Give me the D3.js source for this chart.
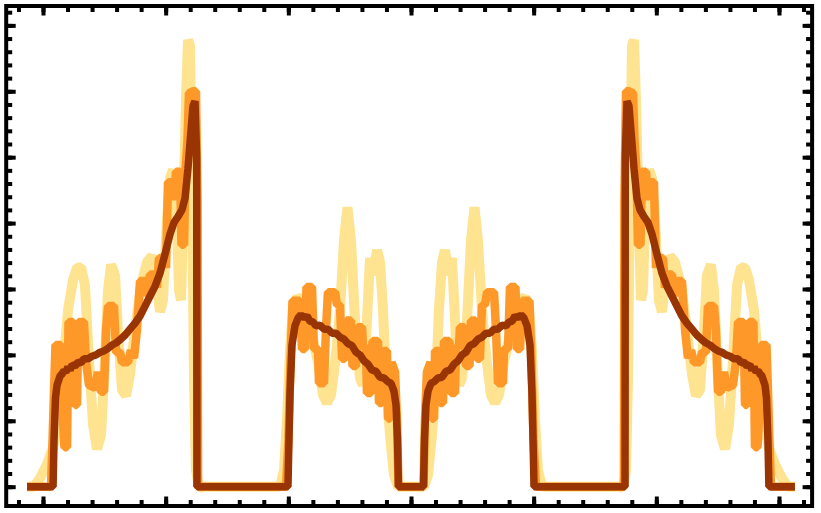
<!DOCTYPE html>
<html>
<head>
<meta charset="utf-8">
<script src="https://cdn.jsdelivr.net/npm/d3@7"></script>
<style>
html, body { margin: 0; padding: 0; background: #ffffff; }
svg { display: block; }
</style>
</head>
<body>
<svg id="chart" width="821" height="513"></svg>
<script>
// ---- data ----
const yellowX = [
  -3.13, -3.073, -3.024, -2.967, -2.918, -2.878, -2.837, -2.796, -2.755, -2.723, -2.69, -2.658, -2.625, -2.592, -2.56, -2.527, -2.495, -2.47, -2.445, -2.413, -2.389, -2.356, -2.323, -2.291, -2.25, -2.201, -2.152, -2.111, -2.079, -2.046, -2.022, -1.989, -1.965, -1.94, -1.916, -1.891, -1.875, -1.859, -1.834, -1.818, -1.802, -1.785, -1.769, -1.753, -1.728, -1.696,
  -1.068, -1.035, -1.011, -0.986, -0.962, -0.929, -0.897, -0.856, -0.807, -0.758, -0.717, -0.685, -0.652, -0.611, -0.579, -0.546, -0.518, -0.489, -0.457, -0.416, -0.391, -0.367, -0.334, -0.31, -0.277, -0.253, -0.228, -0.204, -0.171, -0.139, -0.106,
  0.106, 0.139, 0.171, 0.204, 0.228, 0.253, 0.277, 0.31, 0.334, 0.367, 0.391, 0.416, 0.457, 0.489, 0.518, 0.546, 0.579, 0.611, 0.652, 0.685, 0.717, 0.758, 0.807, 0.856, 0.897, 0.929, 0.962, 0.986, 1.011, 1.035, 1.068,
  1.696, 1.728, 1.753, 1.769, 1.785, 1.802, 1.818, 1.834, 1.859, 1.875, 1.891, 1.916, 1.94, 1.965, 1.989, 2.022, 2.046, 2.079, 2.111, 2.152, 2.201, 2.25, 2.291, 2.323, 2.356, 2.389, 2.413, 2.445, 2.47, 2.495, 2.527, 2.56, 2.592, 2.625, 2.658, 2.69, 2.723, 2.755, 2.796, 2.837, 2.878, 2.918, 2.967, 3.024, 3.073, 3.13
];
const yellowY = [
  0, 0, 0.13, 0.34, 0.59, 1.01, 1.77, 2.68, 3.14, 3.32, 3.33, 3.06, 1.92, 0.94, 0.57, 0.78, 1.92, 2.98, 3.37, 3.21, 2.38, 1.47, 1.38, 1.70, 2.38, 3.06, 3.41, 3.50, 3.21, 2.65, 2.83, 4.05, 4.68, 4.81, 4.50, 2.98, 2.83, 3.89, 5.87, 6.78, 6.70, 4.65, 1.62, 0.25, -0.02, 0,
  0, 0.25, 1.01, 2.07, 2.71, 2.88, 2.83, 2.61, 2.30, 1.89, 1.39, 1.27, 1.39, 2.00, 2.68, 3.74, 4.24, 3.74, 2.53, 1.65, 1.54, 2.23, 3.47, 3.21, 3.59, 3.41, 2.68, 1.62, 0.78, 0.18, 0,
  0, 0.18, 0.78, 1.62, 2.68, 3.41, 3.59, 3.21, 3.47, 2.23, 1.54, 1.65, 2.53, 3.74, 4.24, 3.74, 2.68, 2.00, 1.39, 1.27, 1.39, 1.89, 2.30, 2.61, 2.83, 2.88, 2.71, 2.07, 1.01, 0.25, 0,
  0, -0.02, 0.25, 1.62, 4.65, 6.70, 6.78, 5.87, 3.89, 2.83, 2.98, 4.50, 4.81, 4.68, 4.05, 2.83, 2.65, 3.21, 3.50, 3.41, 3.06, 2.38, 1.70, 1.38, 1.47, 2.38, 3.21, 3.37, 2.98, 1.92, 0.78, 0.57, 0.94, 1.92, 3.06, 3.33, 3.32, 3.14, 2.68, 1.77, 1.01, 0.59, 0.34, 0.13, 0, 0
];

const orangeX = [
  -3.13, -2.935, -2.922, -2.91, -2.898, -2.853, -2.837, -2.825, -2.804, -2.792, -2.755, -2.739, -2.723, -2.711, -2.666, -2.649, -2.625, -2.576, -2.552, -2.527, -2.503, -2.486, -2.47, -2.421, -2.405, -2.372, -2.356, -2.307, -2.283, -2.258, -2.234, -2.209, -2.168, -2.152, -2.128, -2.095, -2.071, -2.054, -2.014, -1.997, -1.981, -1.948, -1.932, -1.916, -1.883, -1.871, -1.85, -1.838, -1.822, -1.81, -1.777, -1.753, -1.74, -1.736,
  -1.019, -0.999, -0.982, -0.966, -0.905, -0.889, -0.864, -0.852, -0.807, -0.791, -0.758, -0.75, -0.709, -0.693, -0.677, -0.62, -0.603, -0.579, -0.562, -0.538, -0.526, -0.489, -0.477, -0.448, -0.436, -0.399, -0.391, -0.367, -0.359, -0.326, -0.314, -0.269, -0.261, -0.236, -0.228, -0.196, -0.187, -0.171, -0.159, -0.13, -0.114, -0.102,
  0.102, 0.114, 0.13, 0.159, 0.171, 0.187, 0.196, 0.228, 0.236, 0.261, 0.269, 0.314, 0.326, 0.359, 0.367, 0.391, 0.399, 0.436, 0.448, 0.477, 0.489, 0.526, 0.538, 0.562, 0.579, 0.603, 0.62, 0.677, 0.693, 0.709, 0.75, 0.758, 0.791, 0.807, 0.852, 0.864, 0.889, 0.905, 0.966, 0.982, 0.999, 1.019,
  1.736, 1.74, 1.753, 1.777, 1.81, 1.822, 1.838, 1.85, 1.871, 1.883, 1.916, 1.932, 1.948, 1.981, 1.997, 2.014, 2.054, 2.071, 2.095, 2.128, 2.152, 2.168, 2.209, 2.234, 2.258, 2.283, 2.307, 2.356, 2.372, 2.405, 2.421, 2.47, 2.486, 2.503, 2.527, 2.552, 2.576, 2.625, 2.649, 2.666, 2.711, 2.723, 2.739, 2.755, 2.792, 2.804, 2.825, 2.837, 2.853, 2.898, 2.91, 2.922, 2.935, 3.13
];
const orangeY = [
  0, 0, 0.71, 1.47, 2.15, 2.15, 1.01, 0.60, 0.60, 2.50, 2.50, 1.24, 1.24, 2.50, 2.50, 1.89, 1.54, 1.50, 1.74, 1.44, 1.44, 2.38, 2.74, 2.74, 2.04, 2.04, 1.89, 1.89, 2.07, 1.95, 2.38, 3.12, 3.12, 2.89, 3.22, 3.22, 3.02, 3.47, 3.47, 3.32, 4.62, 4.62, 4.35, 4.78, 4.78, 3.67, 3.67, 4.81, 5.26, 5.97, 6.00, 6.00, 4.35, 0,
  0, 0.71, 1.92, 2.82, 2.82, 2.09, 2.09, 3.03, 3.03, 2.09, 2.09, 1.57, 1.57, 2.38, 2.95, 2.95, 2.76, 2.76, 1.94, 1.94, 2.52, 2.52, 1.83, 1.83, 2.42, 2.42, 2.12, 2.12, 1.42, 1.42, 2.21, 2.21, 1.27, 1.27, 2.06, 2.06, 1.03, 1.03, 1.89, 1.74, 1.01, 0,
  0, 1.01, 1.74, 1.89, 1.03, 1.03, 2.06, 2.06, 1.27, 1.27, 2.21, 2.21, 1.42, 1.42, 2.12, 2.12, 2.42, 2.42, 1.83, 1.83, 2.52, 2.52, 1.94, 1.94, 2.76, 2.76, 2.95, 2.95, 2.38, 1.57, 1.57, 2.09, 2.09, 3.03, 3.03, 2.09, 2.09, 2.82, 2.82, 1.92, 0.71, 0,
  0, 4.35, 6.00, 6.00, 5.97, 5.26, 4.81, 3.67, 3.67, 4.78, 4.78, 4.35, 4.62, 4.62, 3.32, 3.47, 3.47, 3.02, 3.22, 3.22, 2.89, 3.12, 3.12, 2.38, 1.95, 2.07, 1.89, 1.89, 2.04, 2.04, 2.74, 2.74, 2.38, 1.44, 1.44, 1.74, 1.50, 1.54, 1.89, 2.50, 2.50, 1.24, 1.24, 2.50, 2.50, 0.60, 0.60, 1.01, 2.15, 2.15, 1.47, 0.71, 0, 0
];

const brownX = [
  -3.13, -2.918, -2.91, -2.898, -2.886, -2.861, -2.845, -2.829, -2.812, -2.796, -2.78, -2.763, -2.739, -2.714, -2.69, -2.666, -2.633, -2.6, -2.568, -2.535, -2.503, -2.47, -2.437, -2.405, -2.372, -2.331, -2.291, -2.25, -2.209, -2.168, -2.128, -2.087, -2.046, -2.005, -1.965, -1.932, -1.899, -1.867, -1.842, -1.818, -1.793, -1.777, -1.761, -1.747, -1.745,
  -1.003, -0.995, -0.986, -0.97, -0.946, -0.921, -0.897, -0.872, -0.848, -0.823, -0.799, -0.774, -0.742, -0.709, -0.677, -0.644, -0.611, -0.579, -0.546, -0.514, -0.481, -0.448, -0.416, -0.383, -0.351, -0.318, -0.285, -0.253, -0.22, -0.187, -0.163, -0.139, -0.122, -0.11, -0.102,
  0.102, 0.11, 0.122, 0.139, 0.163, 0.187, 0.22, 0.253, 0.285, 0.318, 0.351, 0.383, 0.416, 0.448, 0.481, 0.514, 0.546, 0.579, 0.611, 0.644, 0.677, 0.709, 0.742, 0.774, 0.799, 0.823, 0.848, 0.872, 0.897, 0.921, 0.946, 0.97, 0.986, 0.995, 1.003,
  1.745, 1.747, 1.761, 1.777, 1.793, 1.818, 1.842, 1.867, 1.899, 1.932, 1.965, 2.005, 2.046, 2.087, 2.128, 2.168, 2.209, 2.25, 2.291, 2.331, 2.372, 2.405, 2.437, 2.47, 2.503, 2.535, 2.568, 2.6, 2.633, 2.666, 2.69, 2.714, 2.739, 2.763, 2.78, 2.796, 2.812, 2.829, 2.845, 2.861, 2.886, 2.898, 2.91, 2.918, 3.13
];
const brownY = [
  0, 0, 0.71, 1.35, 1.54, 1.68, 1.71, 1.76, 1.74, 1.82, 1.77, 1.85, 1.83, 1.89, 1.88, 1.94, 1.94, 1.98, 2.00, 2.04, 2.06, 2.10, 2.15, 2.18, 2.23, 2.30, 2.39, 2.48, 2.59, 2.74, 2.89, 3.04, 3.24, 3.53, 3.83, 4.01, 4.10, 4.20, 4.38, 4.83, 5.41, 5.78, 5.85, 5.0, 0,
  0, 0.71, 1.44, 2.15, 2.44, 2.56, 2.61, 2.56, 2.59, 2.51, 2.50, 2.44, 2.45, 2.39, 2.39, 2.33, 2.33, 2.27, 2.24, 2.17, 2.14, 2.04, 2.00, 1.91, 1.86, 1.77, 1.75, 1.66, 1.65, 1.59, 1.57, 1.45, 1.24, 0.71, 0,
  0, 0.71, 1.24, 1.45, 1.57, 1.59, 1.65, 1.66, 1.75, 1.77, 1.86, 1.91, 2.00, 2.04, 2.14, 2.17, 2.24, 2.27, 2.33, 2.33, 2.39, 2.39, 2.45, 2.44, 2.50, 2.51, 2.59, 2.56, 2.61, 2.56, 2.44, 2.15, 1.44, 0.71, 0,
  0, 5.0, 5.85, 5.78, 5.41, 4.83, 4.38, 4.20, 4.10, 4.01, 3.83, 3.53, 3.24, 3.04, 2.89, 2.74, 2.59, 2.48, 2.39, 2.30, 2.23, 2.18, 2.15, 2.10, 2.06, 2.04, 2.00, 1.98, 1.94, 1.94, 1.88, 1.89, 1.83, 1.85, 1.77, 1.82, 1.74, 1.76, 1.71, 1.68, 1.54, 1.35, 0.71, 0, 0
];

const xMajorTicks = [-3, -2, -1, 0, 1, 2, 3];
const yMajorTicks = [0, 1, 2, 3, 4, 5, 6, 7];
const xMinorTicks = d3.range(-16, 17).map(i => i / 5);
const yMinorTicks = d3.range(0, 37).map(i => i / 5);

// ---- drawing ----
const svg = d3.select("#chart");
const x = d3.scaleLinear().domain([-3.3, 3.27]).range([6.2, 812.1]);
const y = d3.scaleLinear().domain([-0.293, 7.294]).range([506, 6]);

const series = [
  { xs: yellowX, ys: yellowY, color: "#FEE391", width: 10 },
  { xs: orangeX, ys: orangeY, color: "#FE9929", width: 8.5 },
  { xs: brownX,  ys: brownY,  color: "#993404", width: 7.5 }
];

const line = d3.line().x(d => x(d[0])).y(d => y(d[1]));

svg.append("rect").attr("width", 821).attr("height", 513).attr("fill", "#ffffff");

const lines = svg.append("g");
series.forEach(s => {
  lines.append("path")
    .datum(d3.zip(s.xs, s.ys))
    .attr("d", line)
    .attr("fill", "none")
    .attr("stroke", s.color)
    .attr("stroke-width", s.width)
    .attr("stroke-linejoin", "bevel")
    .attr("stroke-linecap", "butt");
});

const [x0, x1] = x.range();
const [yb, yt] = y.range();

function styleAxis(g) {
  g.select(".domain").remove();
  g.selectAll(".tick line").attr("stroke", "#000").attr("stroke-width", 4);
  g.selectAll(".tick text").remove();
}

const axes = [
  { gen: d3.axisBottom(x), t: `translate(0,${yb})`, major: xMajorTicks, minor: xMinorTicks },
  { gen: d3.axisTop(x), t: `translate(0,${yt})`, major: xMajorTicks, minor: xMinorTicks },
  { gen: d3.axisLeft(y), t: `translate(${x0},0)`, major: yMajorTicks, minor: yMinorTicks },
  { gen: d3.axisRight(y), t: `translate(${x1},0)`, major: yMajorTicks, minor: yMinorTicks }
];
axes.forEach(a => {
  svg.append("g").attr("transform", a.t)
    .call(a.gen.tickValues(a.minor).tickSize(-6).tickFormat(""))
    .call(styleAxis);
  svg.append("g").attr("transform", a.t)
    .call(a.gen.tickValues(a.major).tickSize(-9.5).tickFormat(""))
    .call(styleAxis);
});

svg.append("rect")
  .attr("x", x0).attr("y", yt)
  .attr("width", x1 - x0).attr("height", yb - yt)
  .attr("fill", "none").attr("stroke", "#000").attr("stroke-width", 4);
</script>
</body>
</html>
